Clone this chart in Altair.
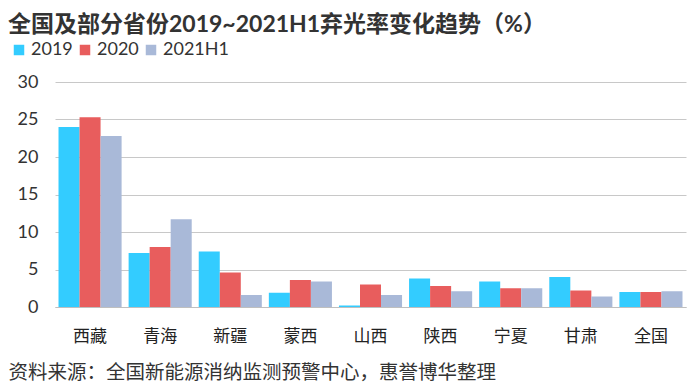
import altair as alt
import pandas as pd

regions = ["西藏", "青海", "新疆", "蒙西", "山西", "陕西", "宁夏", "甘肃", "全国"]
series = ["2019", "2020", "2021H1"]
v2019 = [24.0, 7.2, 7.4, 1.9, 0.2, 3.8, 3.4, 4.0, 2.0]
v2020 = [25.3, 8.0, 4.6, 3.6, 3.0, 2.8, 2.5, 2.2, 2.0]
v2021 = [22.8, 11.7, 1.6, 3.4, 1.6, 2.1, 2.5, 1.4, 2.1]
colors = ["#33CCFF", "#E85D5D", "#A9B9D8"]

rows = []
for s, vals in zip(series, [v2019, v2020, v2021]):
    for r, v in zip(regions, vals):
        rows.append({"region": r, "series": s, "value": v})
df = pd.DataFrame(rows)

FONT = "Lato, Noto Sans CJK SC"

chart = alt.Chart(df).mark_bar().encode(
    x=alt.X("region:N", sort=regions, scale=alt.Scale(paddingInner=0.1, paddingOuter=0.05),
            axis=alt.Axis(title="资料来源：全国新能源消纳监测预警中心，惠誉博华整理",
                          titleFont="Noto Sans CJK SC", titleFontSize=19.5, titleFontWeight="normal",
                          titleColor="#333333", titleAnchor="start", titleAlign="left",
                          titleX=-47, titleY=65, titleBaseline="middle",
                          labelFont="Noto Sans CJK SC", labelFontSize=17, labelColor="#222222",
                          labelPadding=21, ticks=False, domainColor="#BFBFBF", labelAngle=0)),
    xOffset=alt.XOffset("series:N", sort=series),
    y=alt.Y("value:Q", scale=alt.Scale(domain=[0, 30]),
            axis=alt.Axis(title=None, values=[0, 5, 10, 15, 20, 25, 30], labelFont=FONT,
                          labelFontSize=18, labelColor="#333333", labelPadding=17,
                          ticks=False, domain=False, gridColor="#C8C8C8")),
    color=alt.Color("series:N", sort=series,
                    scale=alt.Scale(domain=series, range=colors),
                    legend=alt.Legend(title=None, orient="none", direction="horizontal",
                                      legendX=-45, legendY=-41, symbolType="square",
                                      symbolSize=110, symbolStrokeWidth=0,
                                      labelFont=FONT, labelFontSize=18, labelColor="#333333",
                                      columnPadding=3, symbolOffset=0, labelOffset=3)),
).properties(
    width=631, height=225,
    title=alt.TitleParams("全国及部分省份2019~2021H1弃光率变化趋势（%）", anchor="start",
                          font=FONT, fontSize=23, fontWeight="bold", color="#333333",
                          dx=-47, offset=4, frame="group", orient="top"),
    autosize=alt.AutoSizeParams(type="none"),
    padding={"left": 47, "top": 74, "right": 2, "bottom": 85},
).configure_view(stroke=None)

chart.save("out.html", embed_options={"renderer": "svg", "actions": False})
